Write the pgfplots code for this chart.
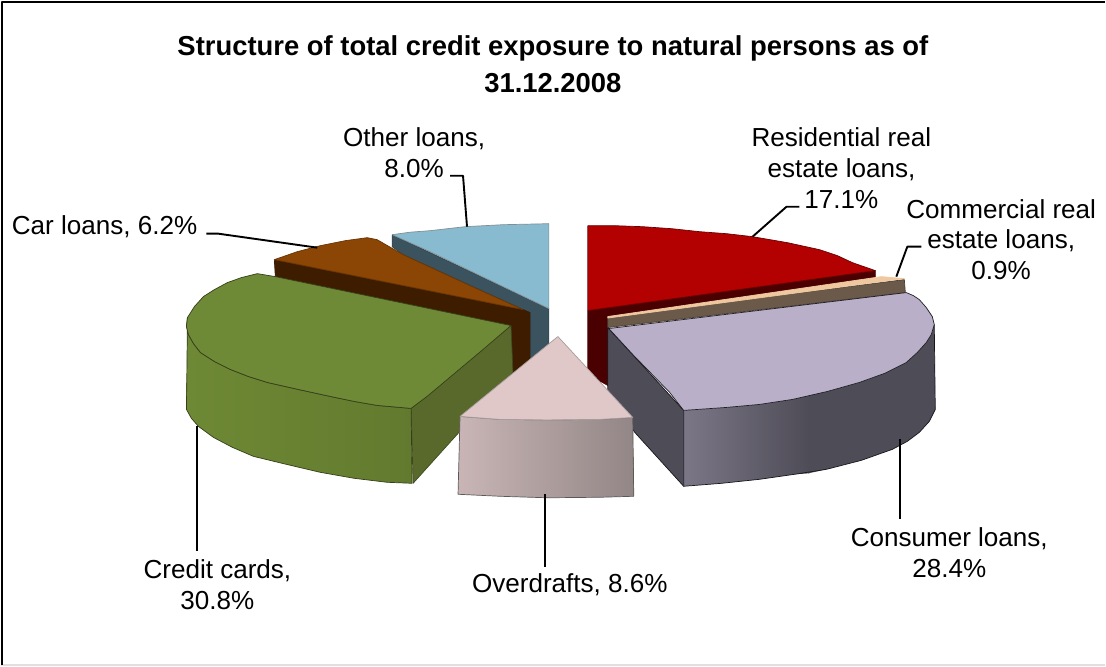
\documentclass[border=0pt]{standalone}
\usepackage{pgfplots}
\pgfplotsset{compat=1.18}
\usepackage{fontspec}
\setmainfont{Liberation Sans}
\definecolor{redtop}{HTML}{B30000}
\definecolor{redside}{HTML}{4A0000}
\definecolor{tantop}{HTML}{F0C8A0}
\definecolor{tanside}{HTML}{6B5A4A}
\definecolor{lilactop}{HTML}{B9AFC8}
\definecolor{lilacside}{HTML}{4E4C57}
\definecolor{lilaclight}{HTML}{7C7787}
\definecolor{pinktop}{HTML}{E0C8C8}
\definecolor{pinkleft}{HTML}{C9B5B5}
\definecolor{pinkright}{HTML}{938686}
\definecolor{greentop}{HTML}{6F8A36}
\definecolor{greenfront}{HTML}{6E8935}
\definecolor{greenend}{HTML}{627A2E}
\definecolor{greenside}{HTML}{58692B}
\definecolor{browntop}{HTML}{8B4504}
\definecolor{brownside}{HTML}{3E1C00}
\definecolor{bluetop}{HTML}{88BBCF}
\definecolor{blueside}{HTML}{3B535F}
\newcommand{\lbl}{\fontsize{26.1}{31}\selectfont}
\begin{document}
\begin{tikzpicture}
\begin{axis}[
  scale only axis, width=1106pt, height=667pt,
  xmin=0, xmax=1106, ymin=0, ymax=667, y dir=reverse,
  hide axis, clip=false,
  every axis plot/.append style={line join=round, line width=0.7pt},
]
% Canvas outline, so the page keeps its full size
\addplot[white, line width=0.1pt] coordinates {(0,0) (1106,0) (1106,667) (0,667) (0,0)};
% Chart frame: dark on the left and top, faint along the bottom
\addplot[black!12, line width=1.5pt] coordinates {(0,666) (1106,666)};
\addplot[black, line width=2pt] coordinates {(1.5,666) (1.5,1.8) (1106,1.8)};

% Other loans
\addplot[fill=blueside, draw=blueside!80!black] coordinates {(392,235) (549,309) (549,345) (530,365) (530,313) (403,255) (392,247) (392,235)};
\addplot[fill=bluetop, draw=gray!75!bluetop] coordinates {(392,235) (410,232.5) (430,231) (465,227) (503,225) (549,224) (549,309) (430,252) (392,235)};

% Car loans
\addplot[fill=brownside, draw=brownside] coordinates {(274,260) (523,310) (530,313) (530,365) (512,375) (511,326) (275,277) (274,260)};
\addplot[fill=browntop, draw=browntop!75!black] coordinates {(274,260) (297,252) (320,246) (345,241) (367,238) (377,240) (403,255) (470,286) (523,310) (274,260)};

% Credit cards
\addplot[fill=greenside, draw=greenside!70!black] coordinates {(411,409) (511,326) (513,373) (413,484) (411,409)};
\addplot[draw=greenside!60!black, left color=greenfront, right color=greenend] coordinates {(187,318) (186,410) (191,419) (198,427) (213,438) (232,448) (253,457) (286,465) (320,473) (354,479) (387,483) (412,484) (411,409) (377,406) (354,402) (330,397) (298,390) (267,383) (248,377) (230,370) (214,362) (200,353) (193,344) (188,335) (186,327) (187,318)};
\addplot[fill=greentop, draw=greenside!60!black] coordinates {(511,326) (275,277) (257,274) (241,278) (227,283) (214,290) (203,297) (194,307) (187,318) (186,327) (188,335) (193,344) (200,353) (214,362) (230,370) (248,377) (267,383) (298,390) (330,397) (354,402) (377,406) (411,409) (427,397) (483,350) (511,326)};

% Residential real estate loans
\addplot[fill=redside, draw=redside] coordinates {(588,311) (876,271) (876,280) (608,317) (608,386) (588,375) (588,311)};
\addplot[fill=redtop, draw=redside!70!redtop] coordinates {(588,226) (615,226) (643,227) (672,229) (700,232) (727,234) (753,237) (788,243) (820,250) (838,256) (853,263) (876,271) (588,311) (588,226)};

% Commercial real estate loans
\addplot[fill=tanside, draw=tanside!70!black] coordinates {(608,317) (905,280) (906,293) (608,328) (608,317)};
\addplot[fill=tantop, draw=tantop] coordinates {(608,317) (882,277) (905,279) (608,318.5) (608,317)};

% Consumer loans
\addplot[fill=lilacside, draw=black!70!lilacside] coordinates {(608,328) (684,411) (684,487) (635,433) (608,392) (608,328)};
\addplot[draw=none, left color=lilaclight, right color=lilacside] coordinates {(684,411) (727,408) (760,405) (793,400) (810,396) (810,474) (795,475) (760,480) (722,484) (684,487) (684,411)};
\addplot[fill=lilacside, draw=none] coordinates {(809,396) (828,392) (860,383) (885,374) (907,363) (918,353) (927,343) (932,335) (935,325) (936,410) (930,422) (920,433) (908,442) (893,450) (862,461) (827,470) (809,474) (809,396)};
\addplot[draw=black!70!lilacside] coordinates {(684,411) (684,487) (722,484) (760,480) (795,475) (827,470) (862,461) (893,450) (908,442) (920,433) (930,422) (936,410) (935,325)};
\addplot[fill=lilactop, draw=black!60!lilacside] coordinates {(609,329) (907,293) (914,296) (920,300) (927,308) (933,317) (935,325) (932,335) (927,343) (918,353) (907,363) (885,374) (860,383) (828,392) (793,400) (760,405) (727,408) (684,411) (670,393) (633,355) (609,329)};

% Overdrafts
\addplot[draw=gray!70!black, left color=pinkleft, right color=pinkright] coordinates {(460,417) (500,420) (547,420.5) (600,420) (633,418) (634,497) (600,498) (547,498.5) (500,497) (458,495) (460,417)};
\addplot[fill=pinktop, draw=gray!60!pinktop] coordinates {(558,337) (633,418) (600,420) (547,420.5) (500,420) (460,417) (558,337)};

% Leader lines
\addplot[black, line width=1.9pt] coordinates {(450,176) (463,176) (467,227)};
\addplot[black, line width=1.9pt] coordinates {(206,234) (218,234) (317,248)};
\addplot[black, line width=1.9pt] coordinates {(800,207) (787,207) (753,237)};
\addplot[black, line width=1.9pt] coordinates {(922,247) (908,247) (897,277)};
\addplot[black, line width=1.9pt] coordinates {(901,440) (901,520)};
\addplot[black, line width=1.9pt] coordinates {(545,495) (545,568)};
\addplot[black, line width=1.9pt] coordinates {(197,427) (197,552)};

% Title and slice labels
\node[font=\bfseries\fontsize{27.45}{37}\selectfont, align=center] at (axis cs:553,64) {Structure of total credit exposure to natural persons as of\\31.12.2008};
\node[font=\lbl, align=center] at (axis cs:842,168.5) {Residential real\\estate loans,\\17.1\%};
\node[font=\lbl, align=center] at (axis cs:1002,240) {Commercial real\\estate loans,\\0.9\%};
\node[font=\lbl, align=center] at (axis cs:414,153) {Other loans,\\8.0\%};
\node[font=\lbl, align=center] at (axis cs:104,227) {Car loans, 6.2\%};
\node[font=\lbl, align=center] at (axis cs:950,553.5) {Consumer loans,\\28.4\%};
\node[font=\lbl, align=center] at (axis cs:570,586) {Overdrafts, 8.6\%};
\node[font=\lbl, align=center] at (axis cs:217,586) {Credit cards,\\30.8\%};
\end{axis}
\end{tikzpicture}
\end{document}
